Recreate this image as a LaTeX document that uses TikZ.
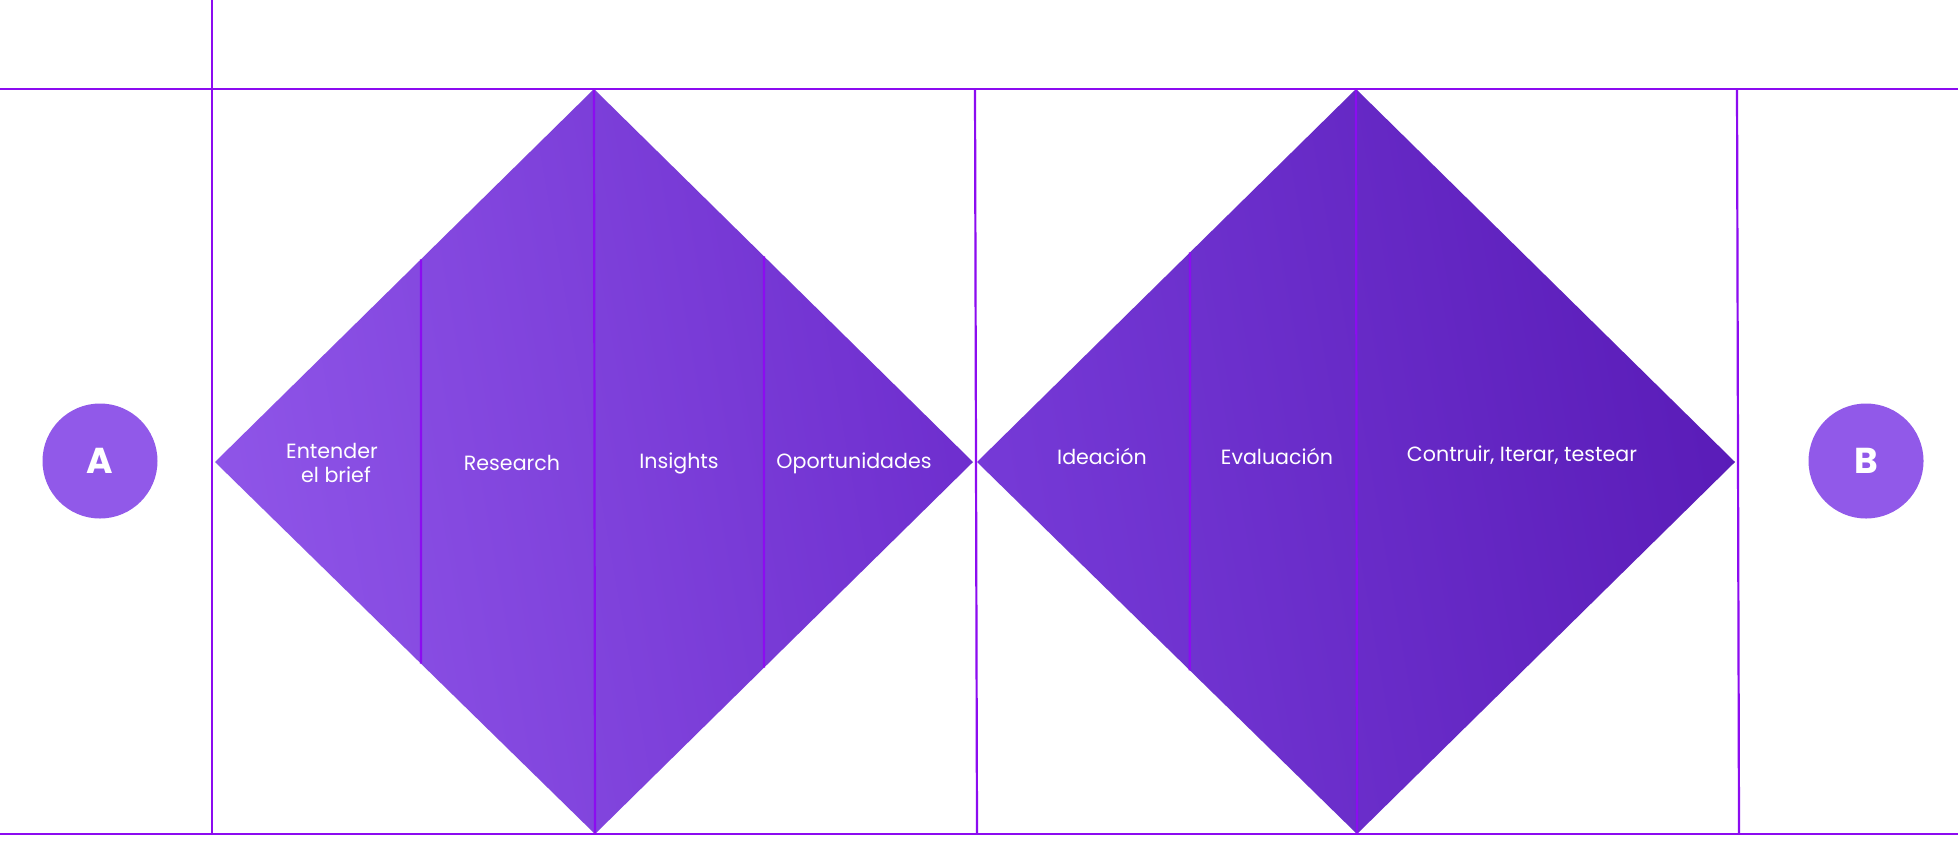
\documentclass[tikz,border=0pt]{standalone}
\usepackage{fontspec}
\setmainfont{Poppins}
\usetikzlibrary{calc}
\definecolor{gridline}{RGB}{140,12,240}
\definecolor{dOneL}{RGB}{143,85,232}
\definecolor{dOneR}{RGB}{110,46,206}
\definecolor{dTwoL}{RGB}{118,58,215}
\definecolor{dTwoR}{RGB}{90,28,184}
\definecolor{circ}{RGB}{145,89,233}
\tikzset{
  grid/.style={draw=gridline, line width=1.1pt},
  divider/.style={draw=gridline, line width=1.1pt},
  label/.style={text=white, font=\fontsize{10.3pt}{12.5pt}\selectfont, align=center, inner sep=0pt},
  endpoint/.style={circle, fill=circ, minimum size=57.5pt, inner sep=0pt, text=white, font=\fontsize{18pt}{20pt}\selectfont\bfseries},
}
\begin{document}
\begin{tikzpicture}[x=0.5pt,y=-0.5pt]
\useasboundingbox (0,0) rectangle (1958,852);
\fill[white] (0,0) rectangle (1958,852);
% diamond corners
\coordinate (L1) at (215,462);
\coordinate (T1) at (594,89);
\coordinate (R1) at (973,462);
\coordinate (B1) at (595,834);
\coordinate (L2) at (977,462);
\coordinate (T2) at (1356,89);
\coordinate (R2) at (1735,462);
\coordinate (B2) at (1357,834);
% diamonds
\shade[left color=dOneL, right color=dOneR, shading angle=100] (L1) -- (T1) -- (R1) -- (B1) -- cycle;
\shade[left color=dTwoL, right color=dTwoR, shading angle=100] (L2) -- (T2) -- (R2) -- (B2) -- cycle;
% grid lines
\coordinate (hTL) at (0,89);
\coordinate (hTR) at (1958,89);
\coordinate (hBL) at (0,834);
\coordinate (hBR) at (1958,834);
\coordinate (v1t) at (212,0);
\coordinate (v1b) at (212,834);
\coordinate (v2t) at (975,89);
\coordinate (v2b) at (977,834);
\coordinate (v3t) at (1737,89);
\coordinate (v3b) at (1739,834);
\draw[grid] (hTL) -- (hTR);
\draw[grid] (hBL) -- (hBR);
\draw[grid] (v1t) -- (v1b);
\draw[grid] (v2t) -- (v2b);
\draw[grid] (v3t) -- (v3b);
% dividers inside diamonds
\draw[divider] ($(L1)!0.5435!(T1)$) -- ($(L1)!0.542!(B1)$);
\draw[divider] (T1) -- (B1);
\draw[divider] ($(T1)!0.4485!(R1)$) -- ($(B1)!0.4471!(R1)$);
\draw[divider] ($(L2)!0.562!(T2)$) -- ($(L2)!0.560!(B2)$);
\draw[divider] (T2) -- (B2);
% labels
\node[label] (entender) at (332,463) {Entender\\[-0.5pt]\hspace*{4pt}el brief};
\node[label] (research) at (512,463) {Research};
\node[label] (insights) at (679,463) {Insights};
\node[label] (oport) at (854,463) {Oportunidades};
\node[label] (ideacion) at (1102,456) {Ideación};
\node[label] (evaluacion) at (1277,456) {Evaluación};
\node[label] (contruir) at (1522,455) {Contruir, Iterar, testear};
% end points
\node[endpoint] (A) at (100,461) {A};
\node[endpoint] (B) at (1866,461) {B};
\end{tikzpicture}
\end{document}
